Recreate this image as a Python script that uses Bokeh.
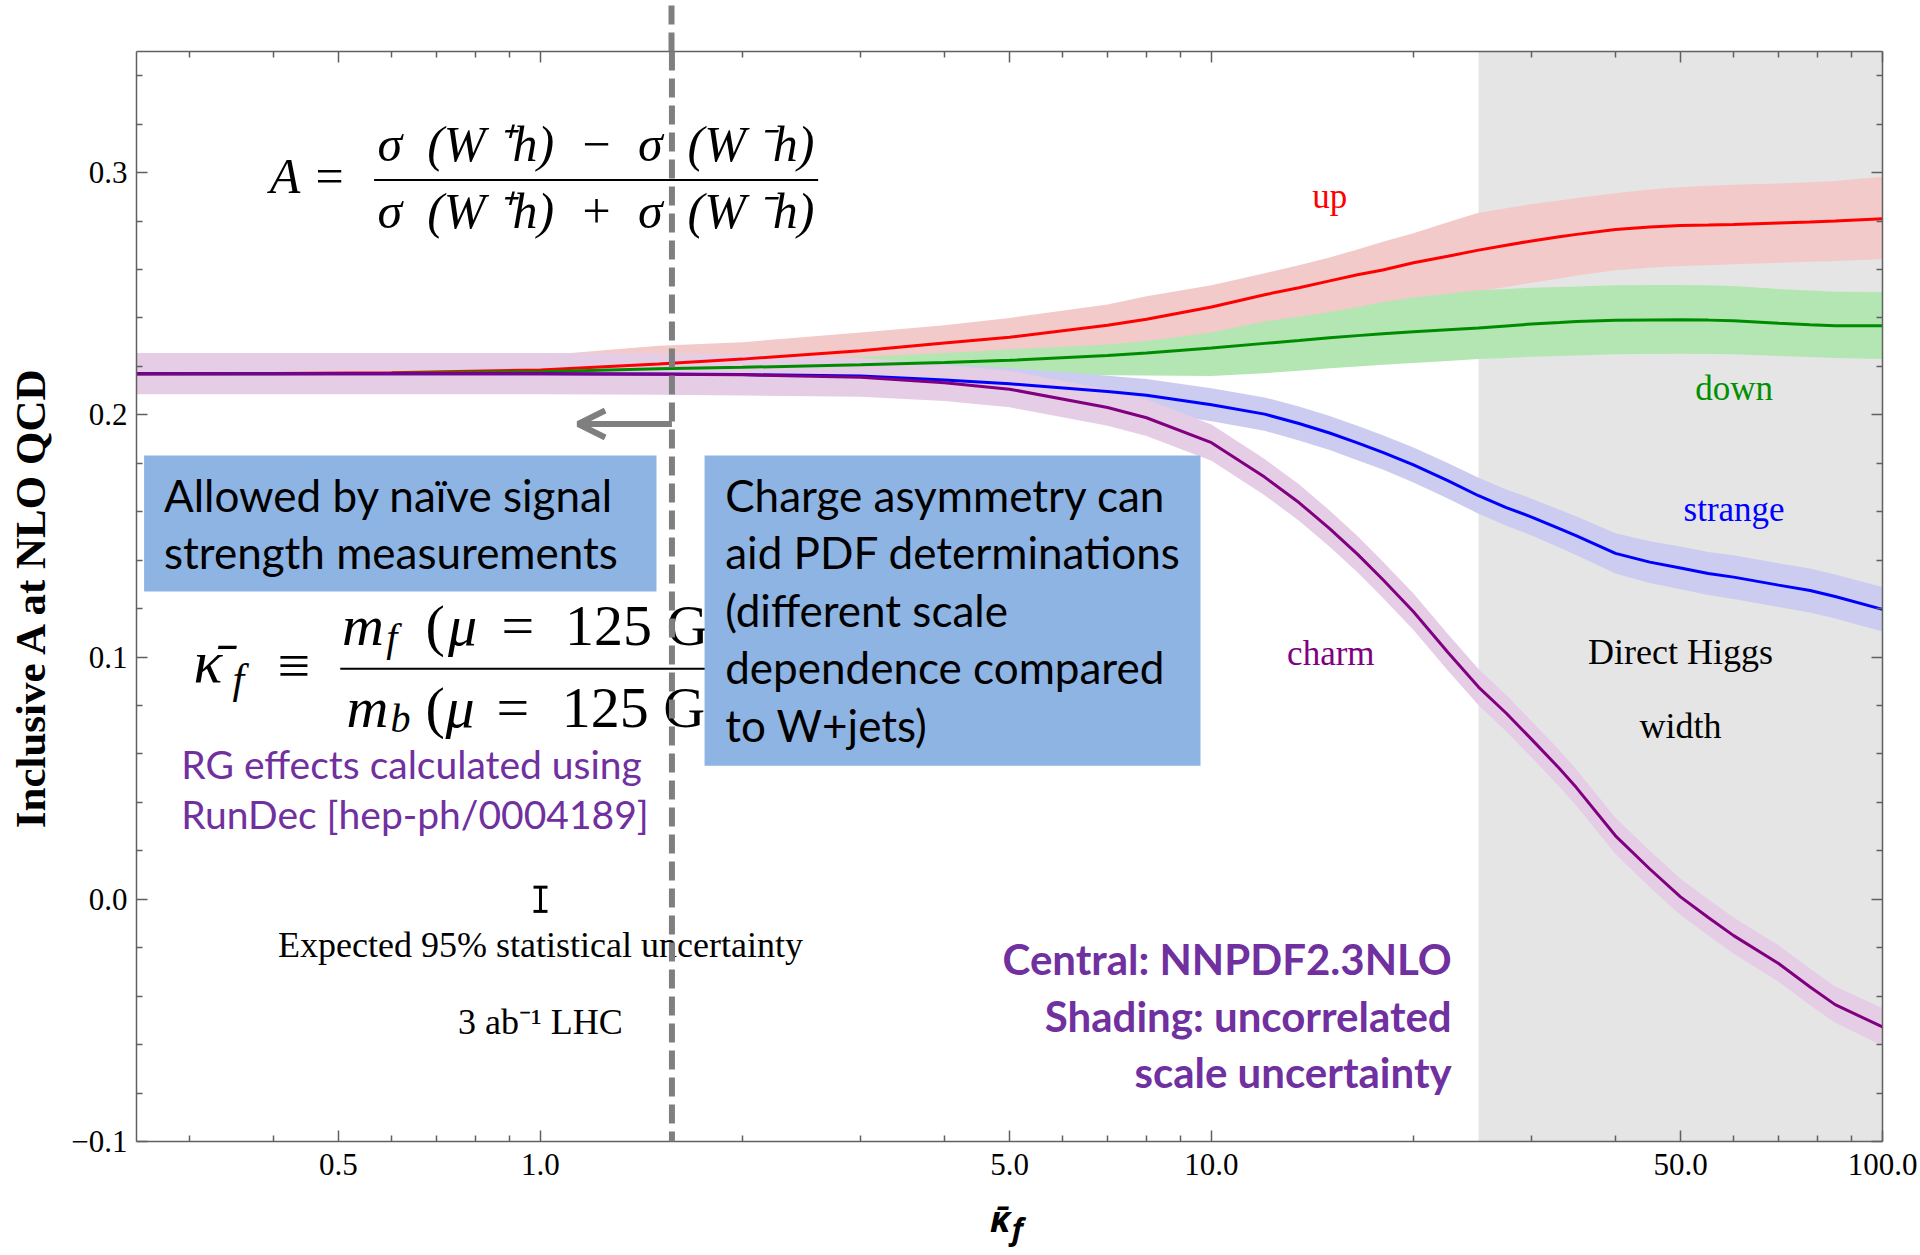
from bokeh.plotting import figure
from bokeh.models import (BoxAnnotation, Label, Arrow, OpenHead, TeeHead, Whisker,
                          ColumnDataSource, FixedTicker, LogAxis, LinearAxis,
                          PrintfTickFormatter, CustomJSTickFormatter)
from bokeh.embed import file_html
from bokeh.resources import INLINE

# ---------------- data ----------------
kappa = [0.25, 0.4, 0.6, 1.0, 1.5, 2.0, 3.0, 4.0, 5.0, 7.0, 8.0,
         10, 12, 13.5, 15, 16.5, 18, 20, 22.5, 25, 27.5, 30,
         33, 35, 40, 45, 50, 55, 60, 70, 78, 85, 100]

up_mid = [0.2170, 0.2171, 0.2174, 0.2185, 0.2210, 0.2230, 0.2265, 0.2297, 0.2320, 0.2370, 0.2395,
          0.2445, 0.2496, 0.2525, 0.2553, 0.2578, 0.2598, 0.2628, 0.2655, 0.2680, 0.2700, 0.2718,
          0.2735, 0.2745, 0.2765, 0.2775, 0.2782, 0.2784, 0.2786, 0.2792, 0.2796, 0.2800, 0.2810]
up_hi = [0.2215, 0.2220, 0.2228, 0.2245, 0.2285, 0.2300, 0.2340, 0.2370, 0.2400, 0.2455, 0.2490,
         0.2535, 0.2585, 0.2618, 0.2650, 0.2683, 0.2715, 0.2750, 0.2795, 0.2834, 0.2853, 0.2870,
         0.2885, 0.2895, 0.2915, 0.2930, 0.2940, 0.2946, 0.2950, 0.2955, 0.2960, 0.2965, 0.2983]
up_lo = [0.2135, 0.2137, 0.2140, 0.2145, 0.2155, 0.2165, 0.2185, 0.2205, 0.2222, 0.2260, 0.2280,
         0.2320, 0.2360, 0.2385, 0.2410, 0.2430, 0.2450, 0.2475, 0.2493, 0.2510, 0.2528, 0.2545,
         0.2563, 0.2575, 0.2597, 0.2607, 0.2614, 0.2618, 0.2622, 0.2628, 0.2632, 0.2635, 0.2642]

down_mid = [0.2170, 0.2170, 0.2172, 0.2178, 0.2190, 0.2196, 0.2207, 0.2216, 0.2225, 0.2245, 0.2255,
            0.2276, 0.2295, 0.2307, 0.2318, 0.2327, 0.2335, 0.2343, 0.2351, 0.2358, 0.2367, 0.2375,
            0.2381, 0.2385, 0.2390, 0.2392, 0.2393, 0.2391, 0.2388, 0.2378, 0.2372, 0.2368, 0.2368]
down_hi = [0.2195, 0.2195, 0.2197, 0.2203, 0.2215, 0.2222, 0.2240, 0.2255, 0.2270, 0.2290, 0.2305,
           0.2340, 0.2385, 0.2405, 0.2425, 0.2445, 0.2465, 0.2485, 0.2500, 0.2514, 0.2520, 0.2525,
           0.2528, 0.2530, 0.2535, 0.2536, 0.2536, 0.2535, 0.2532, 0.2520, 0.2513, 0.2508, 0.2507]
down_lo = [0.2145, 0.2147, 0.2150, 0.2153, 0.2158, 0.2160, 0.2163, 0.2165, 0.2165, 0.2163, 0.2162,
           0.2160, 0.2172, 0.2182, 0.2192, 0.2200, 0.2207, 0.2214, 0.2222, 0.2230, 0.2235, 0.2240,
           0.2243, 0.2245, 0.2250, 0.2251, 0.2252, 0.2251, 0.2250, 0.2243, 0.2239, 0.2235, 0.2231]

strange_mid = [0.2170, 0.2170, 0.2170, 0.2170, 0.2169, 0.2166, 0.2160, 0.2144, 0.2128, 0.2096, 0.2081,
               0.2042, 0.2003, 0.1964, 0.1925, 0.1884, 0.1845, 0.1793, 0.1728, 0.1666, 0.1617, 0.1578,
               0.1530, 0.1500, 0.1428, 0.1392, 0.1368, 0.1345, 0.1330, 0.1297, 0.1275, 0.1250, 0.1197]
strange_hi = [0.2235, 0.2235, 0.2235, 0.2235, 0.2234, 0.2231, 0.2225, 0.2209, 0.2193, 0.2161, 0.2148,
              0.2110, 0.2072, 0.2034, 0.1995, 0.1955, 0.1916, 0.1865, 0.1801, 0.1740, 0.1692, 0.1654,
              0.1608, 0.1580, 0.1511, 0.1478, 0.1456, 0.1434, 0.1420, 0.1387, 0.1366, 0.1341, 0.1289]
strange_lo = [0.2105, 0.2105, 0.2105, 0.2105, 0.2104, 0.2101, 0.2095, 0.2079, 0.2063, 0.2031, 0.2014,
              0.1974, 0.1934, 0.1894, 0.1855, 0.1813, 0.1774, 0.1721, 0.1655, 0.1592, 0.1542, 0.1502,
              0.1452, 0.1420, 0.1345, 0.1306, 0.1280, 0.1256, 0.1240, 0.1207, 0.1184, 0.1159, 0.1105]

charm_mid = [0.2170, 0.2170, 0.2170, 0.2170, 0.2168, 0.2165, 0.2155, 0.2132, 0.2106, 0.2030, 0.1988,
             0.1885, 0.1743, 0.1638, 0.1530, 0.1425, 0.1320, 0.1187, 0.1020, 0.0876, 0.0768, 0.0660,
             0.0540, 0.0460, 0.0262, 0.0125, 0.0010, -0.0075, -0.0150, -0.0265, -0.0362, -0.0435, -0.0527]
charm_hi = [0.2255, 0.2255, 0.2255, 0.2255, 0.2253, 0.2250, 0.2235, 0.2207, 0.2181, 0.2105, 0.2063,
            0.1960, 0.1818, 0.1713, 0.1605, 0.1500, 0.1395, 0.1262, 0.1095, 0.0951, 0.0843, 0.0735,
            0.0615, 0.0535, 0.0337, 0.0200, 0.0085, 0.0000, -0.0075, -0.0190, -0.0287, -0.0360, -0.0449]
charm_lo = [0.2085, 0.2085, 0.2085, 0.2085, 0.2083, 0.2080, 0.2075, 0.2057, 0.2031, 0.1955, 0.1913,
            0.1810, 0.1668, 0.1563, 0.1455, 0.1350, 0.1245, 0.1112, 0.0945, 0.0801, 0.0693, 0.0585,
            0.0465, 0.0385, 0.0187, 0.0050, -0.0065, -0.0150, -0.0225, -0.0340, -0.0437, -0.0510, -0.0605]

# expected 95% statistical uncertainty (3 ab^-1 LHC)
err_x = [1.0]
err_lo = [-0.005]
err_hi = [0.005]

higgs_width_bound = 25.0      # direct Higgs width excluded region starts here
signal_strength_bound = 1.57  # naive signal strength limit

x_major = [0.5, 1, 5, 10, 50, 100]
x_minor = [0.3, 0.4, 0.6, 0.7, 0.8, 0.9, 2, 3, 4, 6, 7, 8, 9, 20, 30, 40, 60, 70, 80, 90]
y_major = [-0.1, 0.0, 0.1, 0.2, 0.3]
y_minor = [-0.08, -0.06, -0.04, -0.02, 0.02, 0.04, 0.06, 0.08, 0.12, 0.14, 0.16, 0.18,
           0.22, 0.24, 0.26, 0.28, 0.32, 0.34]
y_labels = {-0.1: "\u22120.1", 0.0: "0.0", 0.1: "0.1", 0.2: "0.2", 0.3: "0.3"}

SERIF = "Liberation Serif"
SANS = "Lato"
AXIS_COL = "#606060"
PURPLE_TXT = "#7030A0"
DASH_COL = "#7F7F7F"
PX_PER_UNIT = 1090 / 0.45   # frame pixels per y unit (for baseline nudges only)

# ---------------- figure ----------------
p = figure(width=1920, height=1255, x_axis_type="log", x_range=(0.25, 100),
           y_range=(-0.1, 0.35), output_backend="svg", toolbar_location=None,
           min_border_left=136, min_border_right=38, min_border_top=51,
           min_border_bottom=114, background_fill_color="white",
           border_fill_color="white")
p.grid.visible = False
p.outline_line_color = None


def style_axis(ax):
    ax.axis_line_color = AXIS_COL
    ax.axis_line_width = 1.5
    ax.major_tick_line_color = AXIS_COL
    ax.minor_tick_line_color = AXIS_COL
    ax.major_tick_line_width = 1.5
    ax.minor_tick_line_width = 1.5
    ax.major_tick_in = 11
    ax.major_tick_out = 0
    ax.minor_tick_in = 6
    ax.minor_tick_out = 0
    ax.major_label_text_font = SERIF
    ax.major_label_text_font_size = "31px"
    ax.major_label_text_color = "black"


xa = p.xaxis[0]
xa.ticker = FixedTicker(ticks=x_major, minor_ticks=x_minor)
xa.formatter = PrintfTickFormatter(format="%.1f")
style_axis(xa)
xa.major_label_standoff = 12
xa.axis_label = "\u03ba\u0304\u00a0\u00a0"
xa.axis_label_text_font = "Noto Sans"
xa.axis_label_text_font_style = "bold italic"
xa.axis_label_text_font_size = "36px"
xa.axis_label_text_color = "black"
xa.axis_label_standoff = 16

# subscript "f" of the x-axis title, on a bare helper axis pulled up next to kappa-bar
sub_axis = LogAxis(ticker=FixedTicker(ticks=[]), axis_line_color=None,
                   major_tick_line_color=None, minor_tick_line_color=None,
                   major_label_standoff=0, axis_label="\u00a0\u00a0f",
                   axis_label_text_font="Noto Sans", axis_label_text_font_style="bold italic",
                   axis_label_text_font_size="30px", axis_label_text_color="black",
                   axis_label_standoff=-38)
p.add_layout(sub_axis, "below")

ya = p.yaxis[0]
ya.ticker = FixedTicker(ticks=y_major, minor_ticks=y_minor)
ya.major_label_overrides = y_labels
style_axis(ya)
ya.major_label_standoff = 9
ya.axis_label = "Inclusive A at NLO QCD"
ya.axis_label_text_font = SERIF
ya.axis_label_text_font_style = "bold"
ya.axis_label_text_font_size = "43px"
ya.axis_label_text_color = "black"
ya.axis_label_standoff = 14

blank = CustomJSTickFormatter(code="return ''")
top = LogAxis(ticker=FixedTicker(ticks=x_major, minor_ticks=x_minor), formatter=blank)
style_axis(top)
top.major_label_standoff = 0
top.major_label_text_font_size = "1px"
p.add_layout(top, "above")

# upper continuation of the dashed limit line (drawn as a dashed outward tick)
dash_top = LogAxis(ticker=FixedTicker(ticks=[signal_strength_bound], minor_ticks=[]),
                   formatter=blank, axis_line_color=None, minor_tick_line_color=None,
                   major_tick_in=0, major_tick_out=46, major_tick_line_color=DASH_COL,
                   major_tick_line_width=6, major_tick_line_dash="19 8",
                   major_label_standoff=0, major_label_text_font_size="1px")
p.add_layout(dash_top, "above")

right = LinearAxis(ticker=FixedTicker(ticks=y_major, minor_ticks=y_minor), formatter=blank)
style_axis(right)
p.add_layout(right, "right")

# direct Higgs width region
p.add_layout(BoxAnnotation(left=higgs_width_bound, fill_color="#E5E5E5", fill_alpha=1.0,
                           line_color=None, level="underlay"))

# ---------------- bands and central lines ----------------
series = [
    (up_lo, up_hi, up_mid, "#F2CACA", "#FF0000"),
    (down_lo, down_hi, down_mid, "#B4E6B4", "#008C00"),
    (strange_lo, strange_hi, strange_mid, "#CCCCF0", "#0000FF"),
    (charm_lo, charm_hi, charm_mid, "#E6CDE6", "#800080"),
]
for lo, hi, mid, band_col, line_col in series:
    p.varea(x=kappa, y1=lo, y2=hi, fill_color=band_col, fill_alpha=1.0)
for lo, hi, mid, band_col, line_col in series:
    p.line(kappa, mid, line_color=line_col, line_width=3)


def lab(text, x, y, size, color="black", font=SERIF, style="normal", align="left"):
    # y is the wanted baseline; nudge for the renderer's baseline placement
    p.add_layout(Label(x=x, y=y + 0.33 * size / PX_PER_UNIT, text=text, text_font=font,
                       text_font_size=f"{size}px", text_font_style=style,
                       text_color=color, text_align=align, text_baseline="alphabetic"))


# curve labels
lab("up", 15.0, 0.2854, 35, "#FF0000", align="center")
lab("down", 60.1, 0.2060, 35, "#009000", align="center")
lab("strange", 60.1, 0.1563, 35, "#0000FF", align="center")
lab("charm", 15.06, 0.0966, 35, "#800080", align="center")
lab("Direct Higgs", 50.0, 0.0971, 36, align="center")
lab("width", 50.0, 0.0666, 36, align="center")
lab("Expected 95% statistical uncertainty", 1.0, -0.0237, 36, align="center")
lab("3 ab\u207b\u00b9 LHC", 1.0, -0.0557, 36, align="center")

# formula for A
lab("A", 0.395, 0.2916, 50, style="italic")
lab("=", 0.462, 0.2916, 50)
lab("\u03c3\u2002(W\u2009\u207ah)\u2002\u2212\u2002\u03c3\u2002(W\u2009\u207bh)", 1.21, 0.3052, 50,
    style="italic", align="center")
p.add_layout(Arrow(end=None, x_start=0.565, x_end=2.593, y_start=0.297, y_end=0.297,
                   line_color="black", line_width=2))
lab("\u03c3\u2002(W\u2009\u207ah)\u2002+\u2002\u03c3\u2002(W\u2009\u207bh)", 1.21, 0.2774, 50,
    style="italic", align="center")

# formula for kappa_f
lab("\u03ba\u0304", 0.304, 0.0896, 60, style="italic")
lab("f", 0.3475, 0.0854, 42, style="italic")
lab("\u2261", 0.429, 0.0887, 58, align="center")
p.add_layout(Arrow(end=None, x_start=0.503, x_end=1.8, y_start=0.0952, y_end=0.0952,
                   line_color="black", line_width=2))
lab("m", 0.506, 0.1052, 58, style="italic")
lab("f", 0.589, 0.1027, 40, style="italic")
lab("(", 0.674, 0.1052, 58)
lab("\u03bc", 0.728, 0.1052, 58, style="italic")
lab("=", 0.875, 0.1052, 58)
lab("125 GeV)", 1.088, 0.1052, 58)
lab("m", 0.514, 0.0714, 58, style="italic")
lab("b", 0.5976, 0.0690, 40, style="italic")
lab("(", 0.674, 0.0714, 58)
lab("\u03bc", 0.722, 0.0714, 58, style="italic")
lab("=", 0.860, 0.0714, 58)
lab("125 GeV)", 1.076, 0.0714, 58)

# blue boxes
BOX = "#8DB4E2"
p.add_layout(BoxAnnotation(left=0.2566, right=1.489, top=0.1832, bottom=0.1271,
                           fill_color=BOX, fill_alpha=1.0, line_color=None))
p.add_layout(BoxAnnotation(left=1.756, right=9.63, top=0.1832, bottom=0.0551,
                           fill_color=BOX, fill_alpha=1.0, line_color=None))
for t, yy in zip(["Allowed by na\u00efve signal", "strength measurements"], [0.1609, 0.1373]):
    lab(t, 0.2747, yy, 44, font=SANS)
for t, yy in zip(["Charge asymmetry can", "aid PDF determinations", "(different scale",
                  "dependence compared", "to W+jets)"],
                 [0.1609, 0.1373, 0.1134, 0.0899, 0.0661]):
    lab(t, 1.885, yy, 44, font=SANS)

lab("RG effects calculated using", 0.2915, 0.0504, 39, PURPLE_TXT, font=SANS)
lab("RunDec [hep-ph/0004189]", 0.2915, 0.0297, 39, PURPLE_TXT, font=SANS)

for t, yy in zip(["Central: NNPDF2.3NLO", "Shading: uncorrelated", "scale uncertainty"],
                 [-0.0304, -0.0540, -0.0771]):
    lab(t, 22.8, yy, 42, PURPLE_TXT, font=SANS, style="bold", align="right")

# statistical uncertainty bar
err_src = ColumnDataSource(dict(x=err_x, lo=err_lo, hi=err_hi))
p.add_layout(Whisker(source=err_src, base="x", lower="lo", upper="hi", dimension="height",
                     line_color="black", line_width=3,
                     upper_head=TeeHead(size=14, line_width=3, line_color="black"),
                     lower_head=TeeHead(size=14, line_width=3, line_color="black")))

# signal strength limit: dashed line + arrow
p.add_layout(Arrow(end=None, x_start=signal_strength_bound, x_end=signal_strength_bound,
                   y_start=0.35, y_end=-0.2, line_color=DASH_COL, line_width=6,
                   line_dash="19 8"))
p.add_layout(Arrow(end=OpenHead(size=27, line_color=DASH_COL, line_width=6),
                   x_start=signal_strength_bound, x_end=1.138, y_start=0.1962, y_end=0.1962,
                   line_color=DASH_COL, line_width=6))

open("out.html", "w").write(file_html(p, INLINE))
